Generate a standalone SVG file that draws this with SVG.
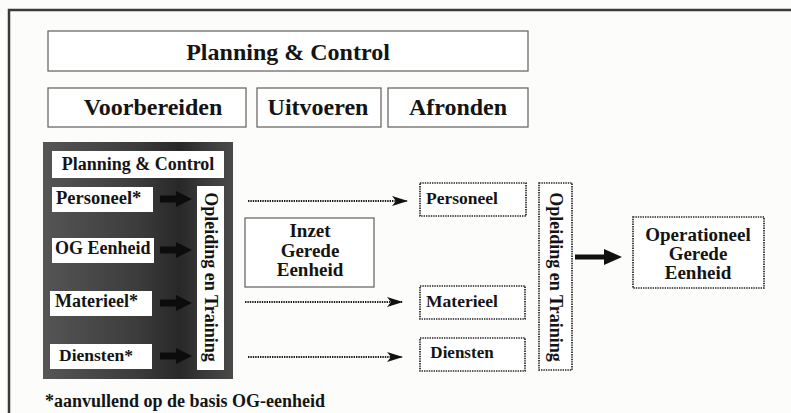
<svg xmlns="http://www.w3.org/2000/svg" width="791" height="413" viewBox="0 0 791 413">
<defs>
<style>
text{font-family:"Liberation Serif","Times New Roman",serif;font-weight:bold;fill:#141414}
.box{fill:#fff;stroke:#6a6a6a;stroke-width:1.3}
.wbox{fill:#fff;stroke:none}
.dbox{fill:#fff;stroke:#222;stroke-width:1.7;stroke-dasharray:1.4 1}
.dot{fill:none;stroke:#1a1a1a;stroke-width:1.8;stroke-dasharray:1.4 1}
.c{text-anchor:middle}
</style>
<linearGradient id="dark" x1="0" y1="0" x2="1" y2="0">
<stop offset="0" stop-color="#555"/>
<stop offset="0.5" stop-color="#3c3c3c"/>
<stop offset="0.72" stop-color="#282828"/>
<stop offset="0.85" stop-color="#3a3a3a"/>
<stop offset="1" stop-color="#4a4a4a"/>
</linearGradient>
<marker id="ah" markerWidth="16" markerHeight="10" refX="15" refY="5" orient="auto" markerUnits="userSpaceOnUse">
<path d="M0,0 L16,5 L0,10 L4,5 z" fill="#111"/>
</marker>
</defs>
<rect width="791" height="413" fill="#fcfcfb"/>
<rect x="9" y="10" width="800" height="420" fill="none" stroke="#3a3a3a" stroke-width="2.5"/>

<g id="planning-control"><rect class="box" x="48" y="31" width="480" height="40"/><text class="c" x="288" y="60" font-size="24">Planning &amp; Control</text></g>
<g id="voorbereiden"><rect class="box" x="48" y="88" width="198" height="39"/><text class="c" x="153" y="115" font-size="24">Voorbereiden</text></g>
<g id="uitvoeren"><rect class="box" x="257" y="88" width="124" height="39"/><text class="c" x="318" y="115" font-size="24">Uitvoeren</text></g>
<g id="afronden"><rect class="box" x="388" y="88" width="140" height="39"/><text class="c" x="458" y="115" font-size="24">Afronden</text></g>

<g id="voorbereiding-blok">
<rect x="43" y="142" width="190" height="237" fill="url(#dark)"/>
<g id="pc-inner"><rect class="wbox" x="52" y="151" width="172" height="27"/><text class="c" x="138" y="170" font-size="18">Planning &amp; Control</text></g>
<g id="personeel-in"><rect class="wbox" x="52" y="187" width="101" height="25"/><text x="56" y="204" font-size="18.5">Personeel*</text></g>
<g id="og-eenheid"><rect class="wbox" x="52" y="238" width="102" height="25"/><text x="55" y="254" font-size="18">OG Eenheid</text></g>
<g id="materieel-in"><rect class="wbox" x="50" y="291" width="102" height="25"/><text x="55" y="307" font-size="18">Materieel*</text></g>
<g id="diensten-in"><rect class="wbox" x="50" y="344" width="102" height="25"/><text x="59" y="361" font-size="17.5">Diensten*</text></g>
<g id="opleiding-in"><rect class="wbox" x="197" y="186" width="27" height="184"/><text class="c" transform="translate(210.5,277) rotate(90)" x="0" y="6" font-size="18">Opleiding en Training</text></g>
</g>

<g id="inzet"><rect class="box" x="245" y="218" width="129" height="69"/><text class="c" font-size="19"><tspan x="310" y="237">Inzet</tspan><tspan x="310" y="256.5">Gerede</tspan><tspan x="310" y="276">Eenheid</tspan></text></g>

<g id="personeel-out"><rect class="dbox" x="420" y="183" width="106" height="33"/><text class="c" x="462" y="204" font-size="17.5">Personeel</text></g>
<g id="materieel-out"><rect class="dbox" x="420" y="286" width="105" height="33"/><text class="c" x="462" y="307" font-size="17.5">Materieel</text></g>
<g id="diensten-out"><rect class="dbox" x="420" y="338" width="105" height="33"/><text class="c" x="462" y="358" font-size="17">Diensten</text></g>
<g id="opleiding-out"><rect class="dbox" x="539" y="183" width="33" height="187"/><text class="c" transform="translate(555.5,277) rotate(90)" x="0" y="6" font-size="18">Opleiding en Training</text></g>
<g id="operationeel"><rect class="dbox" x="633" y="217" width="131" height="71"/><text class="c" font-size="19"><tspan x="698" y="241">Operationeel</tspan><tspan x="698" y="260">Gerede</tspan><tspan x="698" y="279">Eenheid</tspan></text></g>

<g id="connectors">
<path d="M160,195.5 H176 V191 L192,199 L176,207 V202.5 H160 z" fill="#0c0c0c"/>
<path d="M160,246.5 H176 V242 L192,250 L176,258 V253.5 H160 z" fill="#0c0c0c"/>
<path d="M160,299.5 H176 V295 L192,303 L176,311 V306.5 H160 z" fill="#0c0c0c"/>
<path d="M160,352.5 H176 V348 L192,356 L176,364 V359.5 H160 z" fill="#0c0c0c"/>
<line class="dot" x1="248" y1="201" x2="407" y2="201" marker-end="url(#ah)"/>
<line class="dot" x1="245" y1="302" x2="402" y2="302" marker-end="url(#ah)"/>
<line class="dot" x1="248" y1="357" x2="402" y2="357" marker-end="url(#ah)"/>
<path d="M575,254.5 H604 V249 L622,257 L604,265 V259.5 H575 z" fill="#111"/>
</g>

<text x="45" y="407" font-size="18">*aanvullend op de basis OG-eenheid</text>
</svg>
